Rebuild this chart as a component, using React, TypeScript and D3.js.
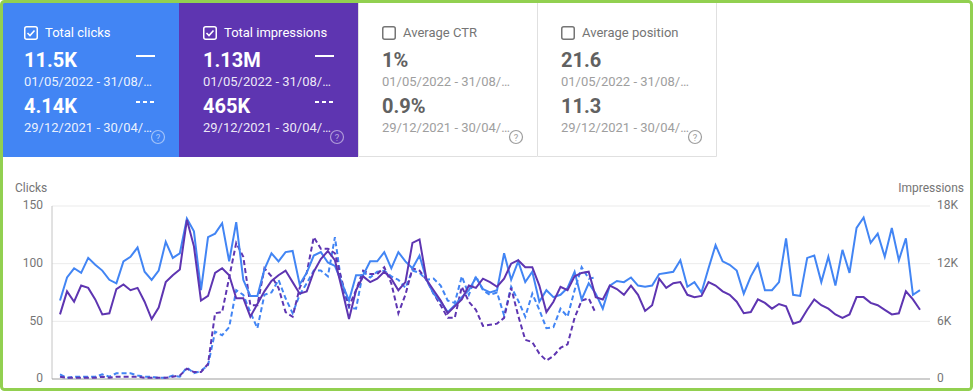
import * as d3 from "d3";

const W = 975;
const H = 392;

// current period 01/05/2022 - 31/08/2022, one value per day
const clicks = [
  68, 88, 96, 92, 105, 99, 94, 86, 83, 102, 106, 114, 93, 86, 94, 119, 105, 109, 139, 128,
  77, 123, 126, 135, 102, 136, 86, 72, 72, 95, 109, 102, 110, 111, 82, 92, 107, 110, 101, 98, 83,
  68, 90, 90, 102, 102, 110, 96, 110, 102, 96, 107, 86, 74, 67, 58, 64, 71, 77, 88, 78,
  75, 77, 109, 86, 102, 84, 93, 67, 77, 71, 73, 79, 93, 69, 83, 74, 61, 81, 85, 84, 88,
  81, 80, 81, 91, 92, 93, 103, 80, 84, 75, 96, 116, 102, 99, 94, 74, 89, 100, 77, 77, 84,
  122, 73, 72, 105, 107, 84, 106, 81, 112, 92, 131, 140, 118, 126, 106, 131, 103, 122, 73, 77,
];

const impressions = [
  6720, 9120, 8040, 9720, 9480, 8280, 6720, 6840, 9360, 9840, 9240, 9480, 8040, 6240, 7440, 10080, 10800, 11400, 16560, 13800,
  8160, 8640, 11040, 11520, 10800, 8400, 8400, 6480, 7800, 9120, 10200, 10800, 11280, 10080, 8880, 9120, 11160, 12480, 13320, 12360, 9360,
  6240, 9240, 10680, 10080, 10440, 11160, 10440, 9240, 10080, 14160, 14520, 10320, 9240, 8160, 6840, 7560, 8280, 9720, 9480, 10440,
  10080, 9600, 10440, 12000, 12360, 11640, 11640, 9720, 6960, 8040, 9600, 9240, 10680, 11040, 11160, 8520, 8280, 9720, 9360, 8760, 9720,
  8760, 7080, 7680, 10440, 9480, 9960, 10080, 8760, 8520, 8640, 10080, 9720, 9120, 8760, 8040, 6840, 6960, 8280, 7920, 7320, 7800,
  7560, 5760, 6000, 7200, 8280, 7680, 7320, 6720, 6360, 6720, 8520, 8520, 7920, 7680, 7200, 6720, 6840, 9120, 8280, 7200,
];

// comparison period 29/12/2021 - 30/04/2022
const prevClicks = [
  4, 1, 2, 2, 2, 2, 4, 2, 5, 5, 5, 3, 2, 2, 1, 1, 3, 2, 10, 5,
  7, 12, 41, 38, 45, 77, 73, 58, 44, 73, 75, 86, 70, 57, 73, 83, 94, 94, 89, 123, 80,
  62, 61, 93, 88, 93, 94, 89, 86, 79, 94, 92, 86, 87, 81, 68, 66, 89, 73, 89, 77,
  73, 75, 55, 80, 68, 54, 74, 60, 44, 45, 61, 54, 77, 97, 87, 88,
];

const prevImpressions = [
  240, 120, 120, 120, 120, 120, 240, 120, 240, 240, 240, 240, 120, 120, 120, 120, 240, 360, 1080, 720,
  720, 1560, 6840, 6960, 10560, 14160, 12720, 7680, 7680, 11520, 10680, 9480, 6960, 6480, 9480, 11040, 14760, 13560, 13560, 13080, 10200,
  7560, 9240, 11280, 10920, 10920, 11640, 9960, 6840, 8760, 11520, 11280, 10320, 8880, 7680, 6360, 6360, 9600, 8040, 7200, 5520,
  5640, 5760, 6360, 9480, 6600, 4080, 3840, 2640, 1920, 2400, 3240, 3600, 6360, 8160, 8400, 6840,
];

const clickTicks = [0, 50, 100, 150];
const impressionTicks = [0, 6000, 12000, 18000];

const cardTitles = ["Total clicks", "Total impressions", "Average CTR", "Average position"];
const cardCurrent = ["11.5K", "1.13M", "1%", "21.6"];
const cardPrevious = ["4.14K", "465K", "0.9%", "11.3"];
const cardFills = ["#4285f4", "#5e35b1", "#ffffff", "#ffffff"];
const cardChecked = [true, true, false, false];
const currentRange = "01/05/2022 - 31/08/…";
const previousRange = "29/12/2021 - 30/04/…";

const BLUE = "#4285f4";
const PURPLE = "#5e35b1";
const FONT = "Roboto, 'Noto Sans', sans-serif";

function Card({ i }: { i: number }) {
  const x0 = i * 179;
  const on = cardChecked[i];
  const fg = on ? "#ffffff" : "#757575";
  const valueColor = on ? "#ffffff" : "#616161";
  const dateColor = on ? "rgba(255,255,255,0.9)" : "#9e9e9e";
  const cx = x0 + 24;
  return (
    <g fontFamily={FONT}>
      {i === 0 ? (
        <path d={`M0,157 V8 Q0,0 8,0 H179 V157 Z`} fill={cardFills[i]} />
      ) : (
        <rect x={x0} y={0} width={179} height={157} fill={cardFills[i]} />
      )}
      {!on && (
        <path
          d={`M${x0 + 0.5},0 V156.5 H${x0 + 179.5} V0`}
          fill="none"
          stroke="#e0e0e0"
          strokeWidth={1}
        />
      )}
      <rect
        x={cx + 0.75}
        y={26.75}
        width={12.5}
        height={12.5}
        rx={2}
        fill="none"
        stroke={on ? "#ffffff" : "#757575"}
        strokeWidth={1.5}
      />
      {on && (
        <path
          d={`M${cx + 3.5},${33} L${cx + 6},${35.5} L${cx + 10.5},${30.5}`}
          fill="none"
          stroke="#ffffff"
          strokeWidth={1.6}
        />
      )}
      <text x={cx + 21} y={37} fontSize={13} fill={fg}>
        {cardTitles[i]}
      </text>
      <text x={cx} y={67} fontSize={20} fontWeight={700} fill={valueColor}>
        {cardCurrent[i]}
      </text>
      <text x={cx} y={86} fontSize={13} fill={dateColor}>
        {currentRange}
      </text>
      <text x={cx} y={113} fontSize={20} fontWeight={700} fill={valueColor}>
        {cardPrevious[i]}
      </text>
      <text x={cx} y={132} fontSize={13} fill={dateColor}>
        {previousRange}
      </text>
      {on && (
        <>
          <line x1={x0 + 136} x2={x0 + 155} y1={56} y2={56} stroke="#fff" strokeWidth={2} />
          <line
            x1={x0 + 136}
            x2={x0 + 155}
            y1={102}
            y2={102}
            stroke="#fff"
            strokeWidth={2}
            strokeDasharray="4 3"
          />
        </>
      )}
      <circle
        cx={x0 + 158}
        cy={137}
        r={6.5}
        fill="none"
        stroke={on ? "rgba(255,255,255,0.5)" : "#9e9e9e"}
        strokeWidth={1.2}
      />
      <text
        x={x0 + 158}
        y={140.5}
        fontSize={9.5}
        textAnchor="middle"
        fill={on ? "rgba(255,255,255,0.55)" : "#9e9e9e"}
      >
        ?
      </text>
    </g>
  );
}

export default function App() {
  const left = 52;
  const right = 930;
  const top = 206;
  const bottom = 379;

  const x = d3.scaleLinear().domain([0, clicks.length - 1]).range([60, 920]);
  const yClicks = d3.scaleLinear().domain([0, 150]).range([bottom, top]);
  const yImpr = d3.scaleLinear().domain([0, 18000]).range([bottom, top]);

  const clickLine = d3
    .line<number>()
    .x((_, i) => x(i))
    .y((d) => yClicks(d));
  const imprLine = d3
    .line<number>()
    .x((_, i) => x(i))
    .y((d) => yImpr(d));

  const fmtK = (v: number) => (v === 0 ? "0" : `${v / 1000}K`);

  return (
    <div style={{ position: "fixed", left: 0, top: 0 }}>
      <svg width={W} height={H} style={{ display: "block", background: "#fff" }}>
        {[0, 1, 2, 3].map((i) => (
          <Card key={cardTitles[i]} i={i} />
        ))}

        {/* grid */}
        {clickTicks
          .filter((t) => t > 0)
          .map((t) => (
            <line
              key={`g-${t}`}
              x1={left}
              x2={right}
              y1={yClicks(t)}
              y2={yClicks(t)}
              stroke="#ebebeb"
              strokeWidth={1}
            />
          ))}
        <line x1={left} x2={left} y1={top} y2={bottom} stroke="#c4c4c4" strokeWidth={1} />
        <line x1={left} x2={right} y1={bottom} y2={bottom} stroke="#9e9e9e" strokeWidth={1.2} />

        {/* axis labels */}
        <g fontFamily={FONT} fontSize={12} fill="#757575">
          <text x={15} y={189} dominantBaseline="middle">
            Clicks
          </text>
          <text x={964} y={189} textAnchor="end" dominantBaseline="middle">
            Impressions
          </text>
          {clickTicks.map((t) => (
            <text key={`l-${t}`} x={43} y={yClicks(t)} textAnchor="end" dominantBaseline="middle">
              {t}
            </text>
          ))}
          {impressionTicks.map((t) => (
            <text key={`r-${t}`} x={937} y={yImpr(t)} dominantBaseline="middle">
              {fmtK(t)}
            </text>
          ))}
        </g>

        {/* comparison period */}
        <path
          d={clickLine(prevClicks) ?? ""}
          fill="none"
          stroke={BLUE}
          strokeWidth={2}
          strokeDasharray="5 3"
        />
        <path
          d={imprLine(prevImpressions) ?? ""}
          fill="none"
          stroke={PURPLE}
          strokeWidth={2}
          strokeDasharray="5 3"
        />
        {/* current period */}
        <path d={clickLine(clicks) ?? ""} fill="none" stroke={BLUE} strokeWidth={2} />
        <path d={imprLine(impressions) ?? ""} fill="none" stroke={PURPLE} strokeWidth={2} />

        {/* outer frame */}
        <rect
          x={1.5}
          y={1.5}
          width={970}
          height={388}
          rx={3}
          fill="none"
          stroke="#92d050"
          strokeWidth={3}
        />
      </svg>
    </div>
  );
}
